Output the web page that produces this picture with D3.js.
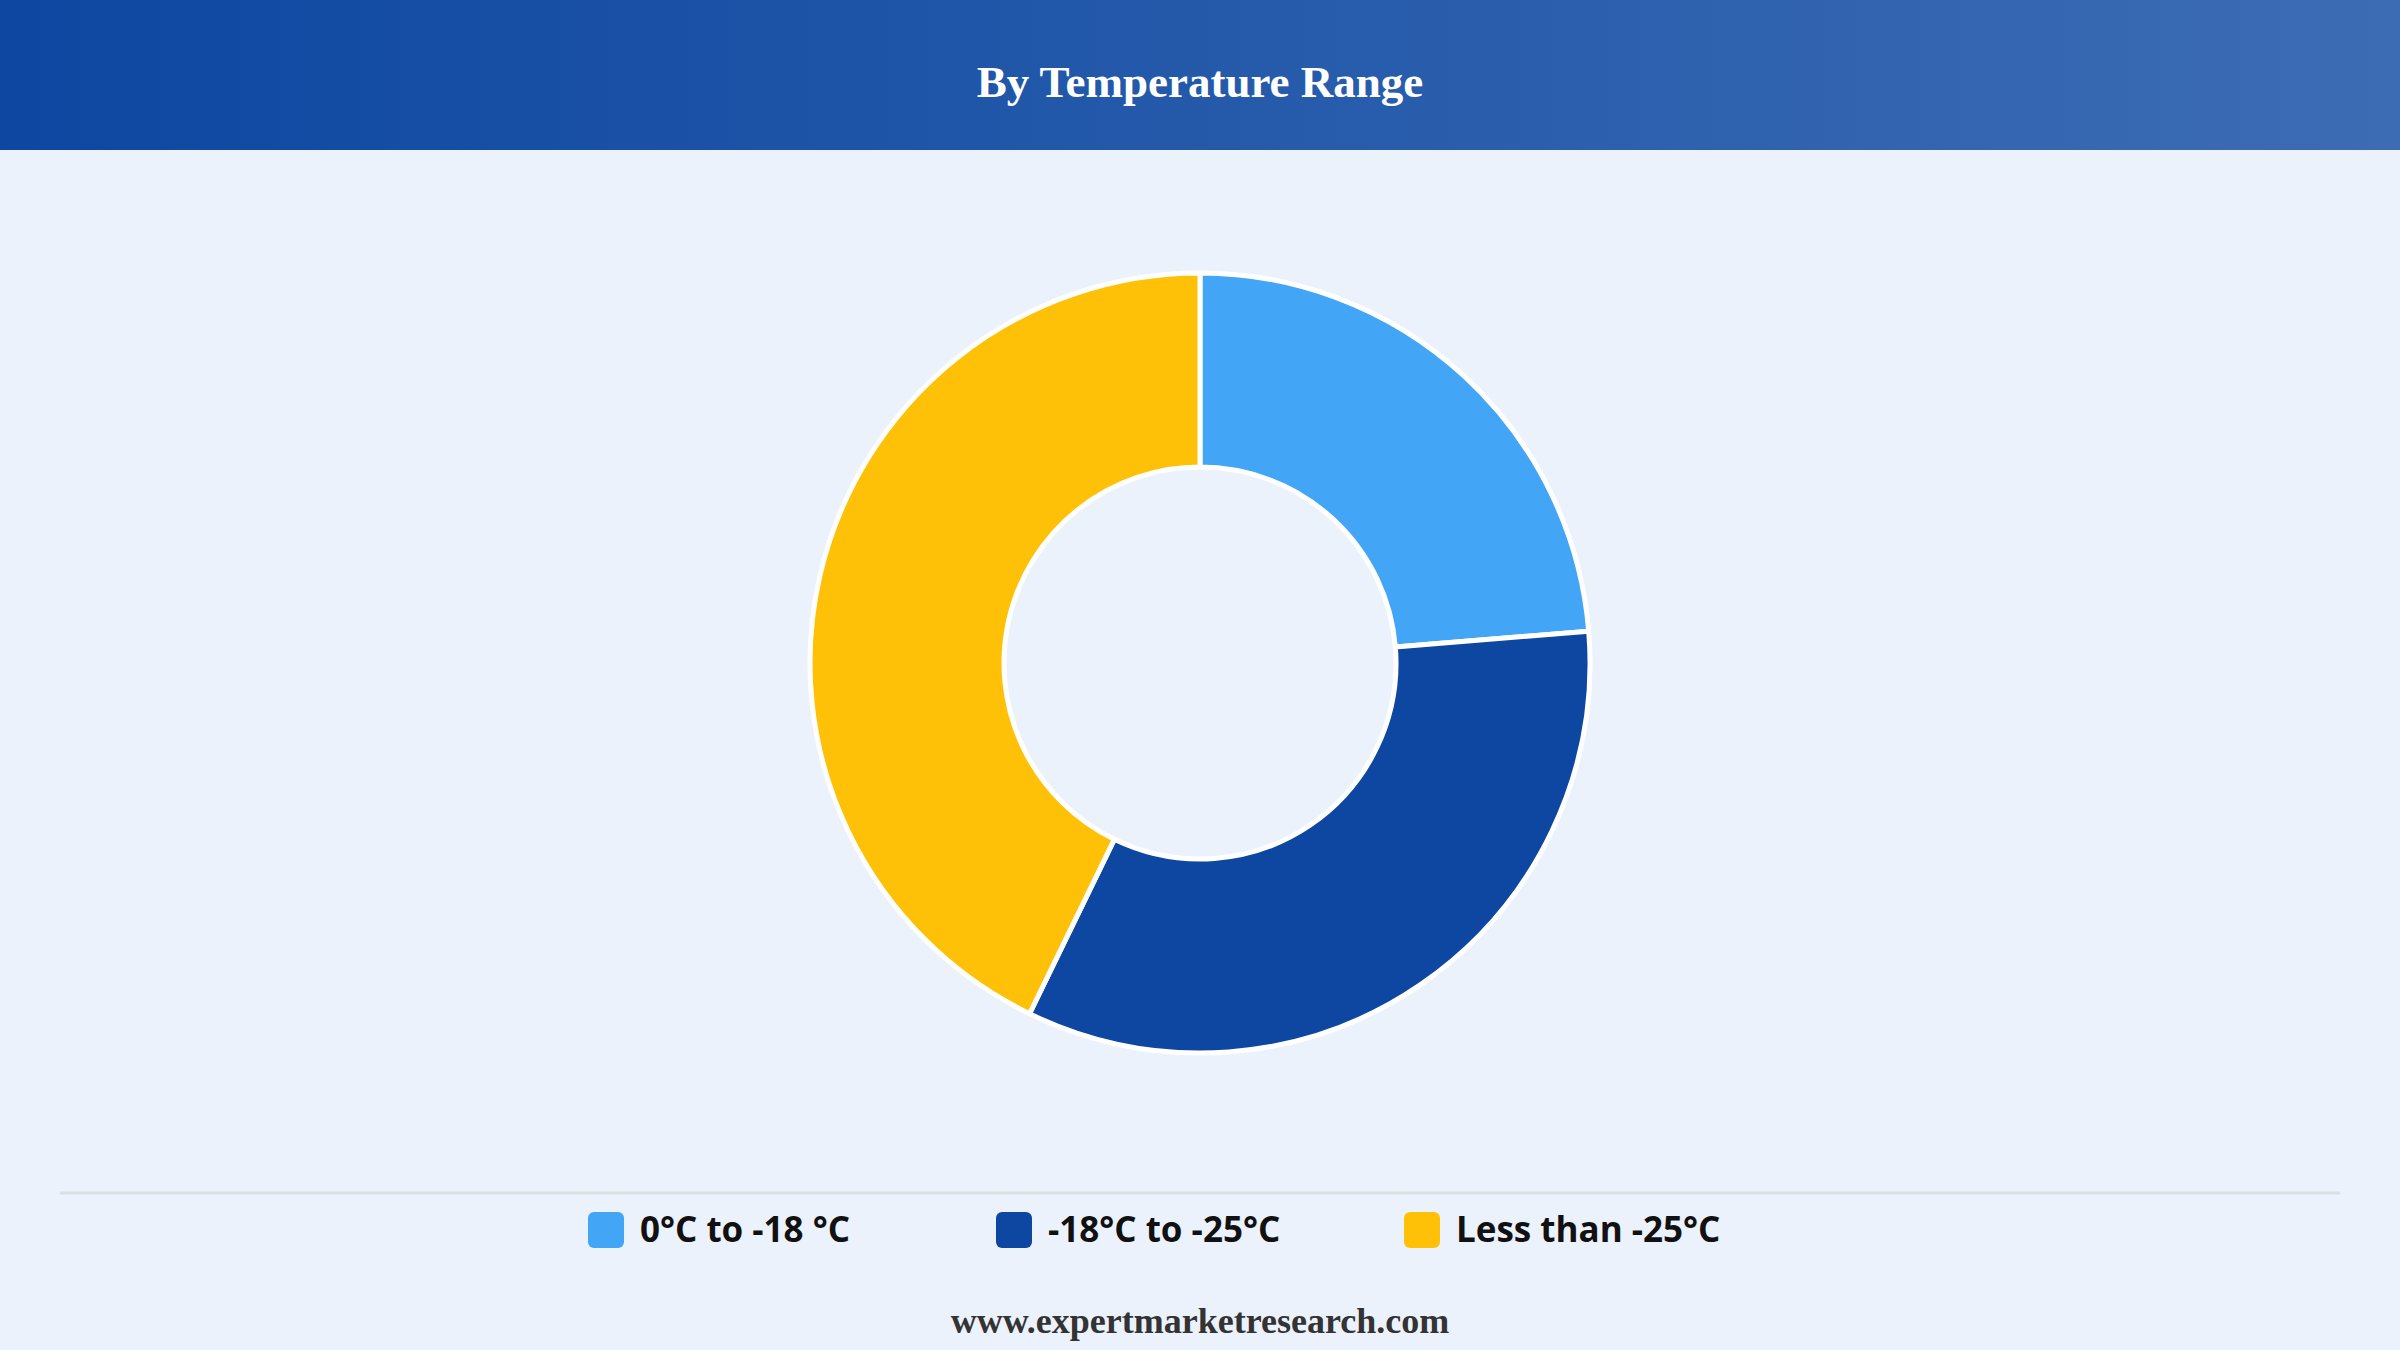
<!DOCTYPE html>
<html>
<head>
<meta charset="utf-8">
<script src="https://cdn.jsdelivr.net/npm/d3@7/dist/d3.min.js"></script>
<style>
  html, body { margin: 0; padding: 0; background: #ebf2fc; }
  svg { display: block; }
</style>
</head>
<body>
<svg id="chart" width="2400" height="1350"></svg>
<script>
const title = "By Temperature Range";
const categories = ["0°C to -18 °C", "-18°C to -25°C", "Less than -25°C"];
const shares = [23.7, 33.5, 42.8];
const colors = ["#42a5f5", "#0d47a1", "#ffc107"];
const footer = "www.expertmarketresearch.com";

const W = 2400, H = 1350;
const svg = d3.select("#chart");

const defs = svg.append("defs");
const grad = defs.append("linearGradient").attr("id", "hdr").attr("x1", "0%").attr("x2", "100%").attr("y1", "0%").attr("y2", "0%");
grad.append("stop").attr("offset", "0%").attr("stop-color", "#0d47a1");
grad.append("stop").attr("offset", "100%").attr("stop-color", "#3c6cb4");

svg.append("rect").attr("width", W).attr("height", H).attr("fill", "#ebf2fc");
svg.append("rect").attr("width", W).attr("height", 150).attr("fill", "url(#hdr)");
svg.append("text").attr("x", W / 2).attr("y", 97).attr("text-anchor", "middle")
  .attr("font-family", "'Liberation Serif','Times New Roman',serif").attr("font-weight", "bold")
  .attr("font-size", 45).attr("fill", "#ffffff").text(title);

const cx = 1200, cy = 663, R = 390, r = 196;
const pie = d3.pie().sort(null).value(d => d.v);
const arc = d3.arc().innerRadius(r).outerRadius(R);
const data = categories.map((c, i) => ({ c, v: shares[i], col: colors[i] }));

svg.append("g").attr("transform", `translate(${cx},${cy})`)
  .selectAll("path").data(pie(data)).join("path")
  .attr("d", arc).attr("fill", d => d.data.col)
  .attr("stroke", "#ffffff").attr("stroke-width", 5).attr("stroke-linejoin", "round");

svg.append("line").attr("x1", 60).attr("x2", 2340).attr("y1", 1193).attr("y2", 1193)
  .attr("stroke", "#dcdfe4").attr("stroke-width", 3);

const legendX = d3.scaleBand().domain(categories).range([588, 1812]);
const lg = svg.append("g").selectAll("g").data(data).join("g")
  .attr("transform", d => `translate(${legendX(d.c)},1212)`);
lg.append("rect").attr("width", 36).attr("height", 36).attr("rx", 6).attr("fill", d => d.col);
lg.append("text").attr("x", 52).attr("y", 30)
  .attr("font-family", "'Open Sans','Noto Sans',sans-serif").attr("font-weight", "bold")
  .attr("font-size", 35).attr("fill", "#111111").text(d => d.c);

svg.append("text").attr("x", W / 2).attr("y", 1333).attr("text-anchor", "middle")
  .attr("font-family", "'Liberation Serif','Times New Roman',serif").attr("font-weight", "bold")
  .attr("font-size", 36).attr("fill", "#333333").text(footer);
</script>
</body>
</html>
